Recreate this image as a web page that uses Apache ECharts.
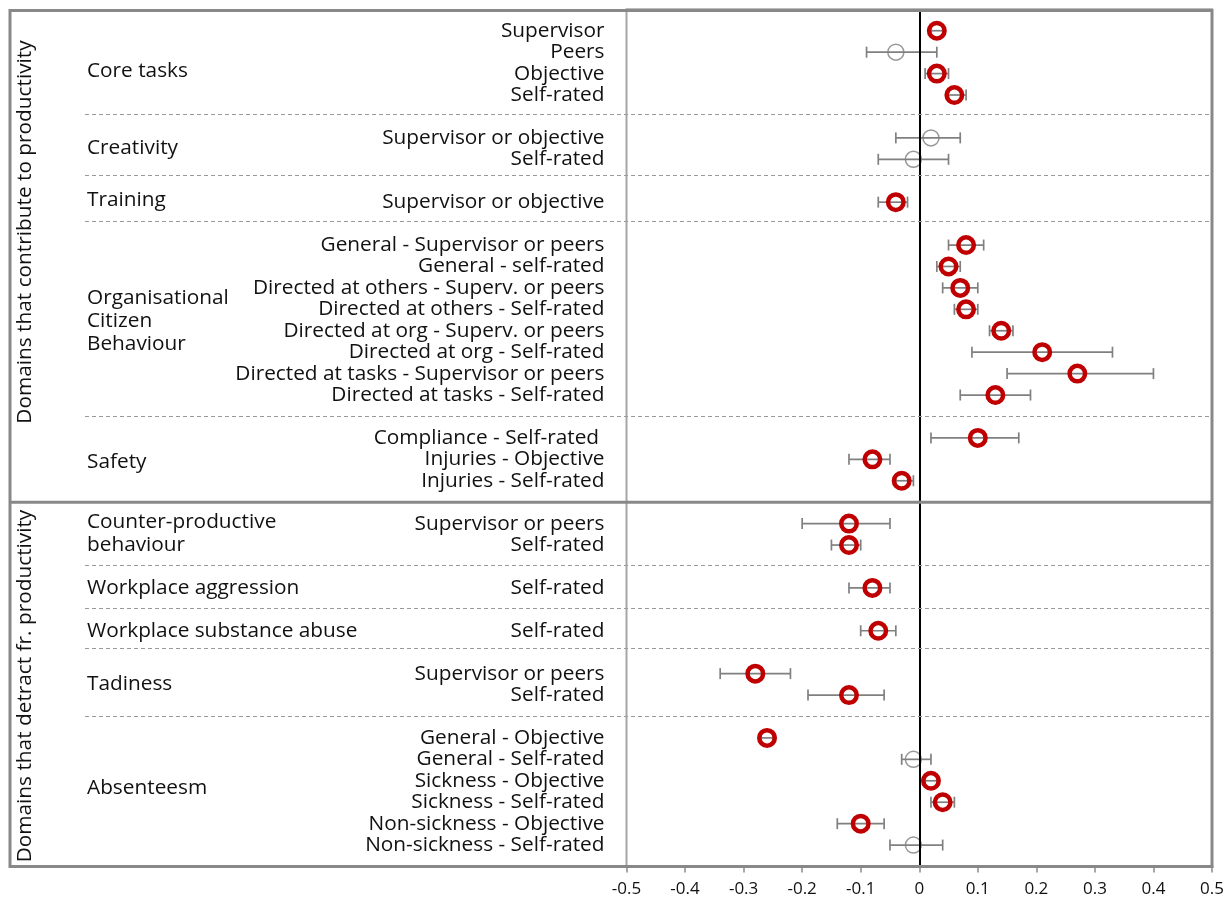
<!DOCTYPE html>
<html>
<head>
<meta charset="utf-8">
<script src="https://cdn.jsdelivr.net/npm/echarts@6/dist/echarts.min.js"></script>
<style>
  html, body { margin: 0; padding: 0; background: #fff; }
  #chart { width: 1232px; height: 905px; }
</style>
</head>
<body>
<div id="chart"></div>
<script>
// Row labels from top to bottom; null marks the spacer row between two domains
const rowLabels = [
  'Supervisor', 'Peers', 'Objective', 'Self-rated', null,
  'Supervisor or objective', 'Self-rated', null,
  'Supervisor or objective', null,
  'General - Supervisor or peers', 'General - self-rated',
  'Directed at others - Superv. or peers', 'Directed at others - Self-rated',
  'Directed at org - Superv. or peers', 'Directed at org - Self-rated',
  'Directed at tasks - Supervisor or peers', 'Directed at tasks - Self-rated', null,
  'Compliance - Self-rated ', 'Injuries - Objective', 'Injuries - Self-rated', null,
  'Supervisor or peers', 'Self-rated', null,
  'Self-rated', null,
  'Self-rated', null,
  'Supervisor or peers', 'Self-rated', null,
  'General - Objective', 'General - Self-rated', 'Sickness - Objective',
  'Sickness - Self-rated', 'Non-sickness - Objective', 'Non-sickness - Self-rated'
];

// Effect estimates and confidence limits per row
const estimates = [
  0.03, -0.04, 0.03, 0.06, null,
  0.02, -0.01, null,
  -0.04, null,
  0.08, 0.05, 0.07, 0.08, 0.14, 0.21, 0.27, 0.13, null,
  0.10, -0.08, -0.03, null,
  -0.12, -0.12, null,
  -0.08, null,
  -0.07, null,
  -0.28, -0.12, null,
  -0.26, -0.01, 0.02, 0.04, -0.10, -0.01
];
const lower = [
  0.02, -0.09, 0.01, 0.05, null,
  -0.04, -0.07, null,
  -0.07, null,
  0.05, 0.03, 0.04, 0.06, 0.12, 0.09, 0.15, 0.07, null,
  0.02, -0.12, -0.04, null,
  -0.20, -0.15, null,
  -0.12, null,
  -0.10, null,
  -0.34, -0.19, null,
  -0.27, -0.03, 0.01, 0.02, -0.14, -0.05
];
const upper = [
  0.04, 0.03, 0.05, 0.08, null,
  0.07, 0.05, null,
  -0.02, null,
  0.11, 0.07, 0.10, 0.10, 0.16, 0.33, 0.40, 0.19, null,
  0.17, -0.05, -0.01, null,
  -0.05, -0.10, null,
  -0.05, null,
  -0.04, null,
  -0.22, -0.06, null,
  -0.25, 0.02, 0.03, 0.06, -0.06, 0.04
];
// true = statistically significant (highlighted marker)
const significant = [
  true, false, true, true, null,
  false, false, null,
  true, null,
  true, true, true, true, true, true, true, true, null,
  true, true, true, null,
  true, true, null,
  true, null,
  true, null,
  true, true, null,
  true, false, true, true, true, false
];

// Domain names shown in the left column
const domainNames = [
  'Core tasks', 'Creativity', 'Training',
  'Organisational\nCitizen\nBehaviour', 'Safety',
  'Counter-productive\nbehaviour', 'Workplace aggression',
  'Workplace substance abuse', 'Tadiness', 'Absenteesm'
];
const sectionNames = [
  'Domains that contribute to productivity',
  'Domains that detract fr. productivity'
];

// ---- layout (axis units on the row scale) ----
const domainLabelAt = [2.88, 6.47, 8.88, 14.57, 21.12, 24.45, 27.0, 29.0, 31.5, 36.35];
const dashedAt = [4.9, 7.72, 9.88, 19.0, 25.93, 27.95, 29.82, 32.98];
const sectionBreakAt = 23.0;
const sectionLabelY = [232, 686];

const FONT = '"Open Sans"';
const TEXT_SIZE = 20.8;
const RED = '#C00000';
const GREY = '#808080';

const sigPts = [], nsPts = [], bars = [];
estimates.forEach((v, i) => {
  if (v === null) return;
  const row = i + 1;
  (significant[i] ? sigPts : nsPts).push([v, row]);
  bars.push([lower[i], upper[i], row]);
});

const chart = echarts.init(document.getElementById('chart'), null, { renderer: 'canvas' });

chart.setOption({
  animation: false,
  backgroundColor: '#fff',
  grid: {
    left: 626.5, right: 20, top: 9.3, bottom: 38.5,
    show: true, borderColor: '#a6a6a6', borderWidth: 2, backgroundColor: 'transparent'
  },
  xAxis: {
    type: 'value', min: -0.5, max: 0.5, interval: 0.1, position: 'bottom',
    axisLine: { show: true, onZero: false, lineStyle: { color: '#8a8a8a', width: 3 } },
    axisTick: { show: true, length: 6, lineStyle: { color: '#8a8a8a', width: 1.5 } },
    axisLabel: { color: '#111', fontFamily: FONT, fontSize: 17, margin: 14 },
    splitLine: { show: false }
  },
  yAxis: {
    type: 'value', inverse: true, min: 0, max: 40, interval: 1,
    axisLine: { show: false, onZero: false }, axisTick: { show: false }, splitLine: { show: false },
    axisLabel: {
      color: '#111', fontFamily: FONT, fontSize: TEXT_SIZE, margin: 22,
      formatter: v => rowLabels[v - 1] || ''
    }
  },
  series: [
    {
      type: 'custom',
      data: bars,
      encode: { x: [0, 1], y: 2 },
      z: 2,
      renderItem: (params, api) => {
        const row = api.value(2);
        const a = api.coord([api.value(0), row]);
        const b = api.coord([api.value(1), row]);
        const h = 5.5;
        const st = { stroke: GREY, lineWidth: 1.7 };
        return {
          type: 'group',
          children: [
            { type: 'line', shape: { x1: a[0], y1: a[1], x2: b[0], y2: b[1] }, style: st },
            { type: 'line', shape: { x1: a[0], y1: a[1] - h, x2: a[0], y2: a[1] + h }, style: st },
            { type: 'line', shape: { x1: b[0], y1: b[1] - h, x2: b[0], y2: b[1] + h }, style: st }
          ]
        };
      }
    },
    {
      type: 'scatter',
      data: nsPts,
      symbol: 'circle',
      symbolSize: 16,
      z: 3,
      itemStyle: { color: 'rgba(0,0,0,0)', borderColor: GREY, borderWidth: 1.5 },
      markLine: {
        silent: true, symbol: 'none', label: { show: false },
        lineStyle: { color: '#000', width: 2, type: 'solid' },
        data: [{ xAxis: 0 }]
      }
    },
    {
      type: 'scatter',
      data: sigPts,
      symbol: 'circle',
      symbolSize: 15.5,
      z: 4,
      itemStyle: { color: 'rgba(0,0,0,0)', borderColor: RED, borderWidth: 4.5, opacity: 1 }
    }
  ]
});

// Frame, separators and left-column labels, placed on the row scale
const py = v => chart.convertToPixel({ yAxisIndex: 0 }, v);
const xL = 10, xR = 1212, yT = 10.5, yB = 866.5;
const g = [];
g.push({
  type: 'rect', z: 10, silent: true,
  shape: { x: xL, y: yT, width: xR - xL, height: yB - yT },
  style: { fill: null, stroke: '#888', lineWidth: 3 }
});
dashedAt.forEach(v => {
  const y = Math.round(py(v)) + 0.5;
  g.push({
    type: 'line', z: 9, silent: true,
    shape: { x1: 85, y1: y, x2: xR, y2: y },
    style: { stroke: '#9a9a9a', lineWidth: 1, lineDash: [4, 3] }
  });
});
const yBreak = py(sectionBreakAt);
g.push({
  type: 'line', z: 10, silent: true,
  shape: { x1: xL, y1: yBreak, x2: xR, y2: yBreak },
  style: { stroke: '#888', lineWidth: 3 }
});
domainNames.forEach((t, i) => {
  g.push({
    type: 'text', z: 10, silent: true,
    x: 87, y: py(domainLabelAt[i]),
    style: {
      text: t, fill: '#111', font: TEXT_SIZE + 'px ' + FONT,
      textAlign: 'left', textVerticalAlign: 'middle', lineHeight: 23
    }
  });
});
sectionNames.forEach((t, i) => {
  g.push({
    type: 'text', z: 10, silent: true,
    x: 25, y: sectionLabelY[i], rotation: Math.PI / 2,
    style: {
      text: t, fill: '#111', font: TEXT_SIZE + 'px ' + FONT,
      textAlign: 'center', textVerticalAlign: 'middle'
    }
  });
});
chart.setOption({ graphic: g });
</script>
</body>
</html>
